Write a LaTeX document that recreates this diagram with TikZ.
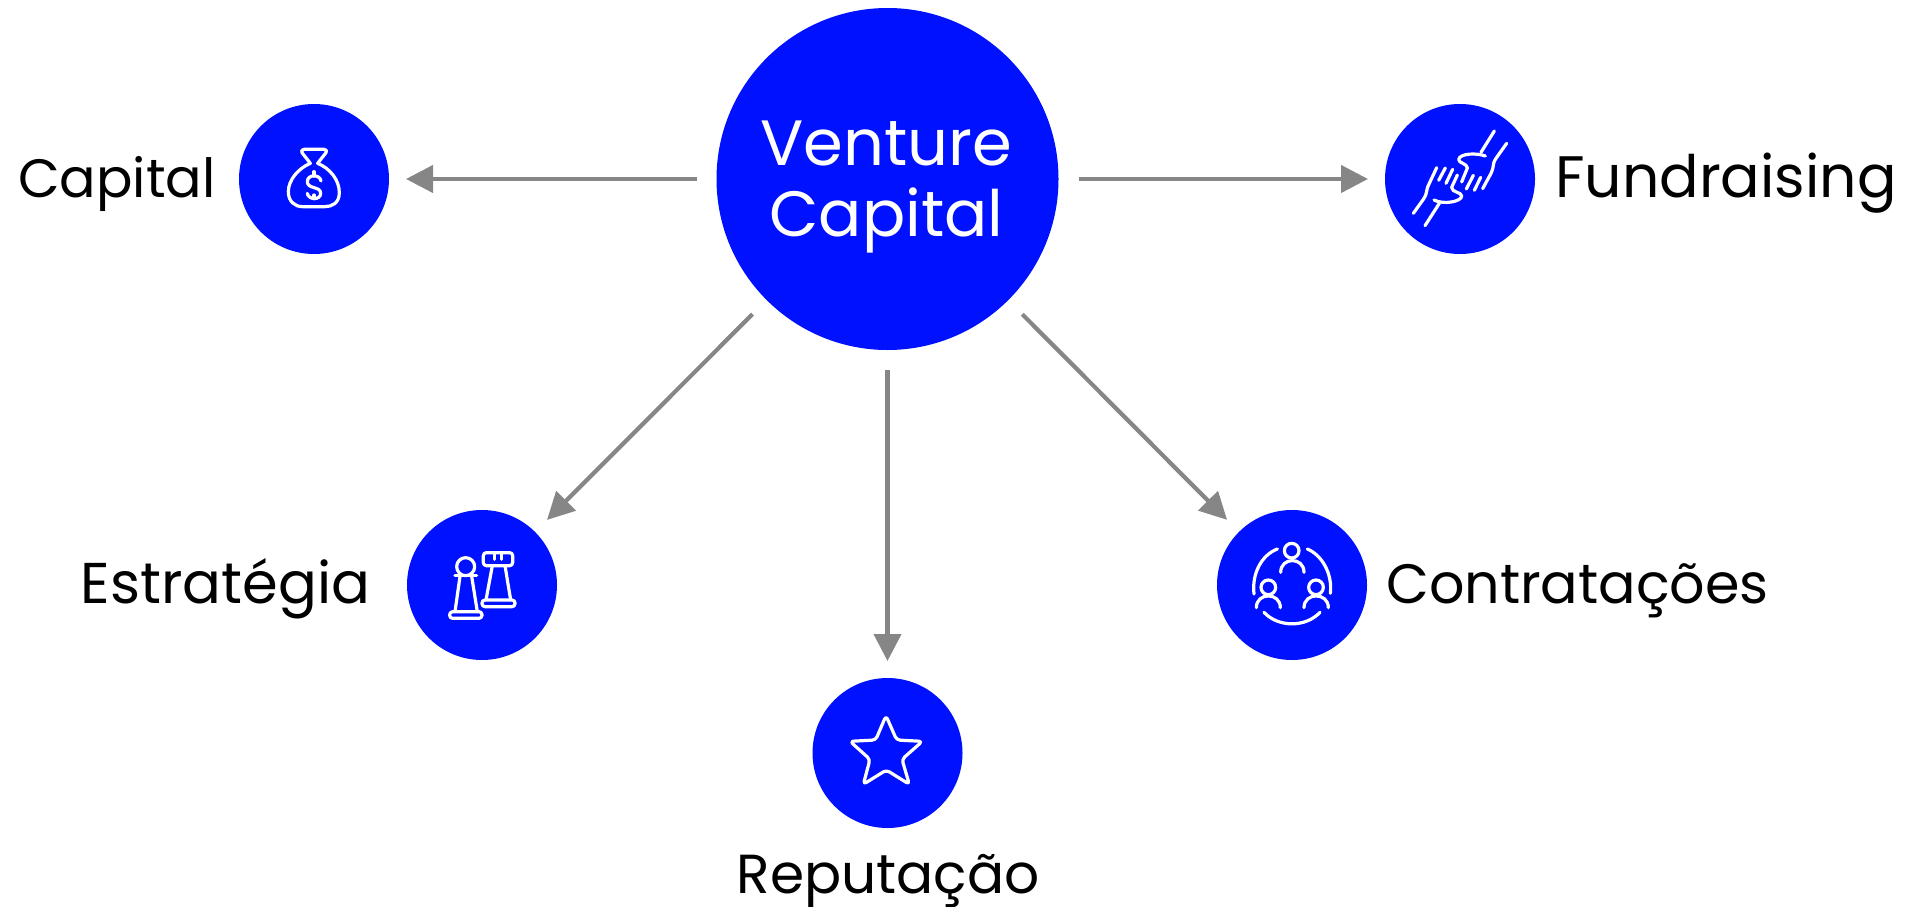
\documentclass[tikz,border=0pt]{standalone}
\usepackage{fontspec}
\setmainfont{Poppins}
\usetikzlibrary{arrows.meta}
\definecolor{vcblue}{HTML}{0011FF}
\definecolor{vcgrey}{HTML}{868686}
\tikzset{
  hub/.style={draw=none,fill=vcblue,circle,inner sep=0pt,outer sep=0pt,minimum size=342pt},
  hubtext/.style={inner sep=0pt,text=white,align=center,font=\fontsize{64}{71}\selectfont},
  spoke/.style={draw=none,fill=vcblue,circle,inner sep=0pt,outer sep=0pt,minimum size=150pt},
  tag/.style={anchor=base,inner sep=0pt,text=black,font=\fontsize{#1}{60}\selectfont},
  link/.style={draw=vcgrey,line width=4.2pt,-{Triangle[length=27pt,width=27pt]},shorten <=20pt,shorten >=17pt},
  icon/.style={draw=white,line width=3.2pt,line cap=round,line join=round}
}
\begin{document}
\begin{tikzpicture}[x=1pt,y=-1pt]
\useasboundingbox (0,0) rectangle (1911,907);

\node[hub] (venture) at (887.5,179) {};
\node[spoke] (capital) at (314,179) {};
\node[spoke] (fundraising) at (1460,179) {};
\node[spoke] (estrategia) at (482,585) {};
\node[spoke] (contratacoes) at (1292,585) {};
\node[spoke] (reputacao) at (887.5,753) {};

\node[hubtext] (venture_t) at (886.5,187) {Venture\\Capital};
\node[tag=54] (capital_t) at (117,197) {Capital};
\node[tag=58.5] (fundraising_t) at (1726,197) {Fundraising};
\node[tag=57.5] (estrategia_t) at (225.5,603) {Estratégia};
\node[tag=55.5] (contratacoes_t) at (1577.5,603) {Contratações};
\node[tag=55] (reputacao_t) at (888,893) {Reputação};

\draw[link] (venture) -- (capital);
\draw[link] (venture) -- (fundraising);
\draw[link] (venture) -- (estrategia);
\draw[link] (venture) -- (contratacoes);
\draw[link] (venture) -- (reputacao);

% money bag
\begin{scope}[shift={(230,100)},scale=1/3]
\draw[icon] (222,148) -- (283,148) .. controls (290,148) and (291,154) .. (288,158)
  -- (263,190) .. controls (300,205) and (328,240) .. (328,278) .. controls (328,310) and (305,320) .. (285,320)
  -- (218,320) .. controls (195,320) and (175,305) .. (175,275) .. controls (175,240) and (205,205) .. (241,190)
  -- (216,158) .. controls (213,154) and (215,148) .. (222,148) -- cycle;
\draw[icon] (273,243) .. controls (270,222) and (232,222) .. (232,245) .. controls (232,268) and (272,258) .. (272,280)
  .. controls (272,302) and (234,300) .. (232,280);
\draw[icon] (252,215) -- (252,228) (252,285) -- (252,296);
\end{scope}

% hands
\begin{scope}[shift={(1380,100)},scale=1/3]
\draw[icon] (343,93) -- (303,157);
\draw[icon] (380,130) -- (348,175) .. controls (335,195) and (345,195) .. (332,222) -- (308,266);
\draw[icon] (316,168) .. controls (290,158) and (240,160) .. (236,178) .. controls (235,190) and (262,190) .. (262,204) -- (245,246);
\draw[icon] (259,267) -- (280,226) (283,271) -- (302,232);
\draw[icon] (100,340) -- (130,298) .. controls (145,275) and (135,275) .. (148,250) -- (170,203);
\draw[icon] (176,241) -- (196,204) (198,250) -- (218,208);
\draw[icon] (178,310) -- (135,377);
\draw[icon] (162,300) .. controls (190,315) and (245,305) .. (245,288) .. controls (245,276) and (215,278) .. (215,262) -- (232,225);
\end{scope}

% chess pieces
\begin{scope}[shift={(400,505)},scale=1/3]
\draw[icon] (197,185) circle (27);
\draw[icon] (165,212) -- (230,212);
\draw[icon] (180,214) -- (165,320) (215,214) -- (232,320);
\draw[icon,rounded corners=3pt] (149,320) rectangle (246,340);
\draw[icon,rounded corners=3pt] (250,143) rectangle (338,182);
\draw[icon] (283,145) -- (283,163) (305,145) -- (305,163);
\draw[icon] (277,182) -- (258,285) (315,182) -- (332,285);
\draw[icon,rounded corners=3pt] (246,285) rectangle (345,305);
\end{scope}

% team
\begin{scope}[shift={(1210,505)},scale=1/3]
\draw[icon] (245,137) circle (22) (175,247) circle (22) (318,247) circle (22);
\draw[icon] (212,202) .. controls (212,155) and (282,155) .. (282,202);
\draw[icon] (139,308) .. controls (139,261) and (211,261) .. (211,308);
\draw[icon] (282,308) .. controls (282,261) and (355,261) .. (355,308);
\draw[icon] (202,132) .. controls (155,150) and (125,205) .. (132,267);
\draw[icon] (292,132) .. controls (335,150) and (368,205) .. (361,265);
\draw[icon] (162,322) .. controls (205,368) and (287,368) .. (330,322);
\end{scope}

% star
\begin{scope}[shift={(805,675)},scale=1/3]
\draw[icon,rounded corners=3.5pt] (243,122) -- (275,195) -- (352,199) -- (291,253) -- (313,328) -- (244,285) -- (175,328) -- (195,253) -- (135,199) -- (212,195) -- cycle;
\end{scope}
\end{tikzpicture}
\end{document}
